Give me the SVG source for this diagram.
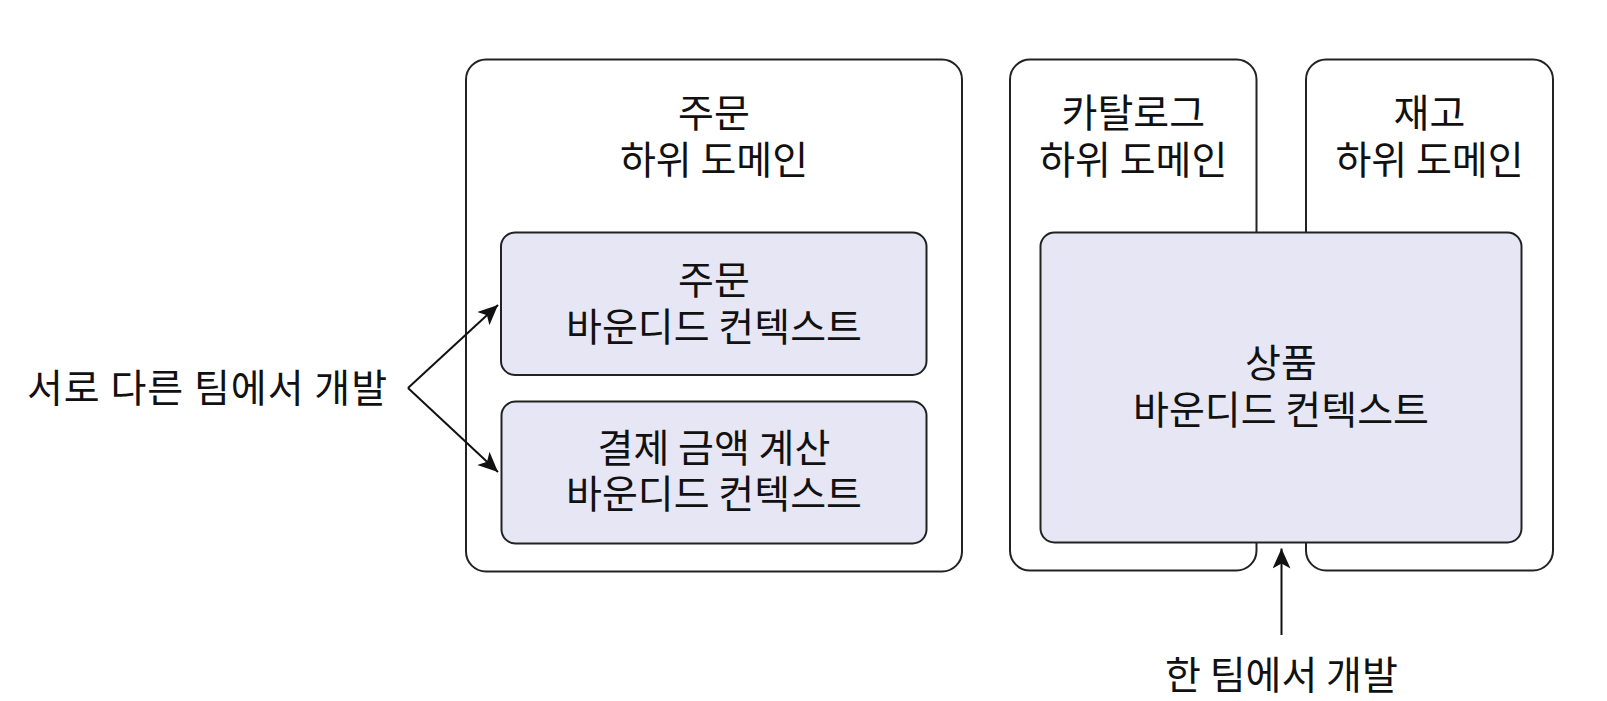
<svg xmlns="http://www.w3.org/2000/svg" width="1607" height="701" viewBox="0 0 1607 701">
  <style>
    .outer { fill: #ffffff; stroke: #222222; stroke-width: 2; }
    .ctx { fill: #e6e6f4; stroke: #222222; stroke-width: 2; }
    .lbl { font-family: "Noto Sans CJK KR", "Noto Sans", sans-serif; font-size: 39px; fill: #111111; text-anchor: middle; }
    .conn { stroke: #111111; stroke-width: 2; fill: none; }
  </style>
  <defs>
    <marker id="arrow" markerUnits="userSpaceOnUse" markerWidth="26" markerHeight="26" refX="20" refY="9" orient="auto">
      <path d="M0,0 L20,9 L0,18 L5,9 Z" fill="#111111"/>
    </marker>
  </defs>
  <rect width="1607" height="701" fill="#ffffff"/>

  <g id="order-subdomain">
    <rect class="outer" x="466" y="59.5" width="496" height="512" rx="20" ry="20"/>
    <text class="lbl" x="714" y="127"><tspan x="714">주문</tspan><tspan x="714" dy="47">하위 도메인</tspan></text>
  </g>

  <g id="catalog-subdomain">
    <rect class="outer" x="1010" y="59.5" width="246.5" height="511" rx="20" ry="20"/>
    <text class="lbl" x="1133.3" y="127"><tspan x="1133.3">카탈로그</tspan><tspan x="1133.3" dy="47">하위 도메인</tspan></text>
  </g>

  <g id="inventory-subdomain">
    <rect class="outer" x="1306" y="59.5" width="247" height="511" rx="20" ry="20"/>
    <text class="lbl" x="1429.5" y="127"><tspan x="1429.5">재고</tspan><tspan x="1429.5" dy="47">하위 도메인</tspan></text>
  </g>

  <g id="order-context">
    <rect class="ctx" x="501" y="232.5" width="425.5" height="142.5" rx="14" ry="14"/>
    <text class="lbl" x="714" y="294"><tspan x="714">주문</tspan><tspan x="714" dy="47">바운디드 컨텍스트</tspan></text>
  </g>

  <g id="payment-context">
    <rect class="ctx" x="501.5" y="401.5" width="425" height="142" rx="14" ry="14"/>
    <text class="lbl" x="714" y="462"><tspan x="714">결제 금액 계산</tspan><tspan x="714" dy="46">바운디드 컨텍스트</tspan></text>
  </g>

  <g id="product-context">
    <rect class="ctx" x="1040.5" y="232.5" width="481" height="310" rx="14" ry="14"/>
    <text class="lbl" x="1281" y="377"><tspan x="1281">상품</tspan><tspan x="1281" dy="47">바운디드 컨텍스트</tspan></text>
  </g>

  <g id="label-different-teams">
    <text class="lbl" x="207.5" y="402" letter-spacing="1">서로 다른 팀에서 개발</text>
  </g>

  <g id="label-one-team">
    <text class="lbl" x="1281.5" y="689">한 팀에서 개발</text>
  </g>

  <g id="connectors">
    <path class="conn" d="M408,388 L498,305" marker-end="url(#arrow)"/>
    <path class="conn" d="M408,388 L498,472" marker-end="url(#arrow)"/>
    <path class="conn" d="M1281.5,635 L1281.5,548.5" marker-end="url(#arrow)"/>
  </g>
</svg>
